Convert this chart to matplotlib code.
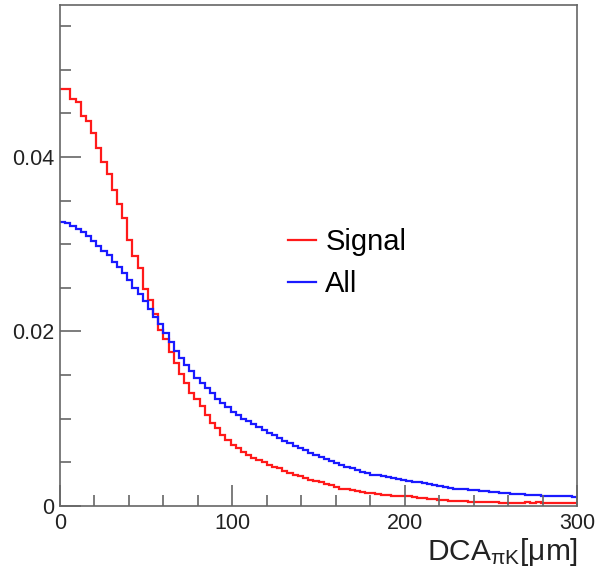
import numpy as np
import matplotlib
matplotlib.use("Agg")
import matplotlib.pyplot as plt
from matplotlib.ticker import MultipleLocator

plt.rcParams['font.family'] = ['Liberation Sans', 'DejaVu Sans']
plt.rcParams['mathtext.fontset'] = 'custom'
plt.rcParams['mathtext.rm'] = 'Liberation Sans'
plt.rcParams['mathtext.it'] = 'Liberation Sans:italic'

# DCA between pion and kaon tracks, 3 um bins from 0 to 300 um (normalised)
bin_edges = np.linspace(0, 300, 101)

signal = [
    0.0478, 0.0478, 0.0466, 0.0463, 0.0447, 0.0441, 0.0427, 0.0410, 0.0394, 0.0380,
    0.0362, 0.0346, 0.0330, 0.0305, 0.0286, 0.0273, 0.0249, 0.0236, 0.0220, 0.0202,
    0.0191, 0.0177, 0.0164, 0.0151, 0.0141, 0.0129, 0.0123, 0.0114, 0.0104, 0.0095,
    0.0089, 0.0081, 0.0076, 0.0070, 0.0066, 0.0062, 0.0058, 0.0055, 0.0053, 0.0050,
    0.0047, 0.0045, 0.0043, 0.0040, 0.0038, 0.0036, 0.0034, 0.0032, 0.0030, 0.0029,
    0.0027, 0.0025, 0.0024, 0.0022, 0.0020, 0.0019, 0.0018, 0.0017, 0.0016, 0.0015,
    0.0015, 0.0014, 0.0013, 0.0013, 0.0012, 0.0012, 0.0011, 0.0011, 0.0010, 0.0009,
    0.0009, 0.0008, 0.0008, 0.0007, 0.0007, 0.0006, 0.0006, 0.0006, 0.0006, 0.0005,
    0.0005, 0.0005, 0.0005, 0.0005, 0.0005, 0.0004, 0.0004, 0.0004, 0.0004, 0.0004,
    0.0005, 0.0004, 0.0005, 0.0004, 0.0004, 0.0003, 0.0003, 0.0003, 0.0003, 0.0003,
]

all_cand = [
    0.0325, 0.0324, 0.0321, 0.0317, 0.0314, 0.0309, 0.0304, 0.0298, 0.0292, 0.0287,
    0.0280, 0.0274, 0.0267, 0.0259, 0.0250, 0.0243, 0.0235, 0.0226, 0.0217, 0.0208,
    0.0198, 0.0188, 0.0178, 0.0169, 0.0162, 0.0155, 0.0147, 0.0141, 0.0135, 0.0129,
    0.0123, 0.0118, 0.0113, 0.0108, 0.0104, 0.0100, 0.0097, 0.0094, 0.0091, 0.0087,
    0.0084, 0.0081, 0.0078, 0.0075, 0.0072, 0.0069, 0.0067, 0.0064, 0.0061, 0.0059,
    0.0056, 0.0054, 0.0051, 0.0049, 0.0047, 0.0045, 0.0043, 0.0041, 0.0039, 0.0038,
    0.0036, 0.0035, 0.0034, 0.0033, 0.0032, 0.0031, 0.0030, 0.0029, 0.0028, 0.0027,
    0.0026, 0.0025, 0.0024, 0.0023, 0.0022, 0.0021, 0.0020, 0.0020, 0.0019, 0.0018,
    0.0018, 0.0017, 0.0017, 0.0016, 0.0016, 0.0015, 0.0015, 0.0014, 0.0014, 0.0014,
    0.0013, 0.0013, 0.0013, 0.0012, 0.0012, 0.0012, 0.0011, 0.0011, 0.0011, 0.0010,
]

x_ticks = [0, 100, 200, 300]
x_tick_labels = ["0", "100", "200", "300"]
y_ticks = [0, 0.02, 0.04]
y_tick_labels = ["0", "0.02", "0.04"]

fig = plt.figure(figsize=(5.98, 5.70), dpi=100)
ax = fig.add_axes([60 / 598, 64 / 570, 517 / 598, 501 / 570])

ax.stairs(signal, bin_edges, baseline=None, color="#ff1a1a", lw=1.6, label="Signal")
ax.stairs(all_cand, bin_edges, baseline=None, color="#1a1aff", lw=1.6, label="All")

ax.set_xlim(0, 300)
ax.set_ylim(0, 0.0574)

ax.set_xticks(x_ticks)
ax.set_xticklabels(x_tick_labels)
ax.set_yticks(y_ticks)
ax.set_yticklabels(y_tick_labels)
ax.xaxis.set_minor_locator(MultipleLocator(20))
ax.yaxis.set_minor_locator(MultipleLocator(0.005))

axis_grey = "#666666"
for side in ["left", "bottom", "right", "top"]:
    ax.spines[side].set_color(axis_grey)
    ax.spines[side].set_linewidth(1.2)

ax.tick_params(which="both", direction="in", colors=axis_grey, labelcolor="#222222",
               top=False, right=False, width=1.2)
ax.tick_params(which="major", length=15, labelsize=15.5)
ax.tick_params(which="minor", length=8)
ax.tick_params(axis="x", which="major", pad=5)
ax.tick_params(axis="y", which="major", pad=4)

fig.text(578 / 598, 10 / 570, r"DCA$_{\mathregular{\pi K}}$[$\mathregular{\mu}$m]",
         ha="right", va="baseline", fontsize=21.5, color="#222222")

leg = ax.legend(loc="center left", bbox_to_anchor=(228 / 517, 1 - 258 / 501),
                frameon=False, fontsize=21, handlelength=0.95, handletextpad=0.33,
                labelspacing=0.5, borderpad=0, borderaxespad=0)

fig.savefig("out.png", dpi=100)
